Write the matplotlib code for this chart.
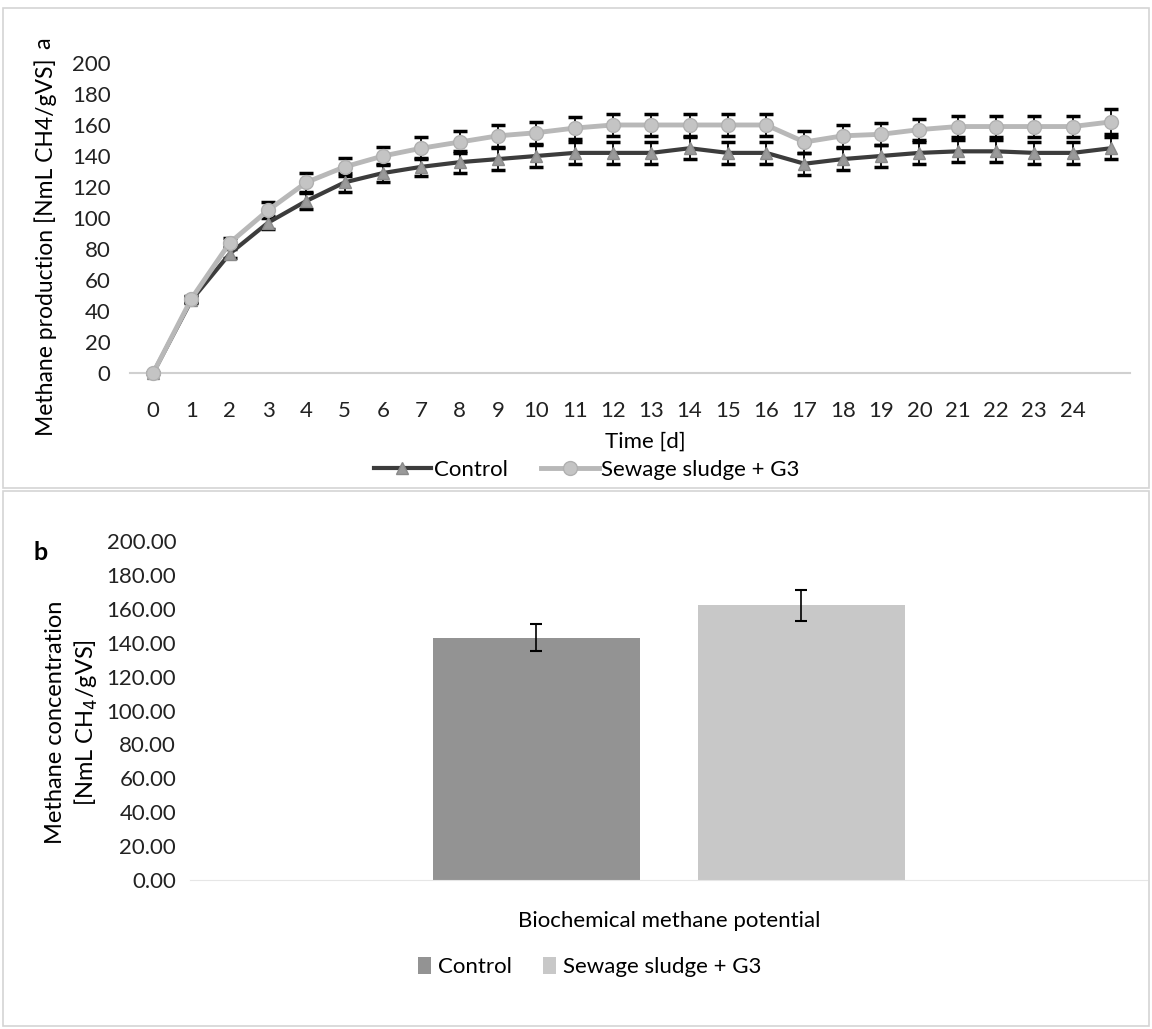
import matplotlib
matplotlib.use("Agg")
import matplotlib.pyplot as plt
import numpy as np
from matplotlib.patches import Rectangle

plt.rcParams["font.family"] = ["Lato", "DejaVu Sans"]

# panel a: cumulative methane production
days = list(range(26))
day_labels = [str(d) for d in range(25)]
control = [0, 47, 77, 97, 111, 123, 129, 133, 136, 138, 140, 142, 142, 142, 145,
           142, 142, 135, 138, 140, 142, 143, 143, 142, 142, 145]
control_err = [0, 2, 3, 4, 5, 6, 6, 6, 7, 7, 7, 7, 7, 7, 7,
               7, 7, 7, 7, 7, 7, 7, 7, 7, 7, 7]
sludge = [0, 48, 84, 105, 123, 133, 140, 145, 149, 153, 155, 158, 160, 160, 160,
          160, 160, 149, 153, 154, 157, 159, 159, 159, 159, 162]
sludge_err = [0, 2, 3, 5, 6, 6, 6, 7, 7, 7, 7, 7, 7, 7, 7,
              7, 7, 7, 7, 7, 7, 7, 7, 7, 7, 8]

# panel b: biochemical methane potential
bmp_names = ["Control", "Sewage sludge + G3"]
bmp_values = [143.0, 162.0]
bmp_err = [8.0, 9.0]

fig = plt.figure(figsize=(11.52, 10.29), dpi=100)

# panel frames
fig.patches.append(Rectangle((0.003, 0.526), 0.994, 0.466, transform=fig.transFigure,
                             fill=False, edgecolor="#d4d4d4", linewidth=1.2))
fig.patches.append(Rectangle((0.003, 0.003), 0.994, 0.52, transform=fig.transFigure,
                             fill=False, edgecolor="#d4d4d4", linewidth=1.2))

# ---- panel a ----
ax1 = fig.add_axes([0.113, 0.6375, 0.868, 0.3013])
ax1.errorbar(days, control, yerr=control_err, fmt="none", ecolor="black",
             elinewidth=1.3, capsize=5, capthick=2.5, clip_on=False, zorder=2)
ax1.errorbar(days, sludge, yerr=sludge_err, fmt="none", ecolor="black",
             elinewidth=1.3, capsize=5, capthick=2.5, clip_on=False, zorder=2)
ax1.plot(days, control, color="#3c3c3c", linewidth=3, marker="^", markersize=9,
         markerfacecolor="#9a9a9a", markeredgecolor="#8a8a8a",
         label="Control", clip_on=False, zorder=3)
ax1.plot(days, sludge, color="#b8b8b8", linewidth=3.5, marker="o", markersize=10,
         markerfacecolor="#c4c4c4", markeredgecolor="#b0b0b0",
         label="Sewage sludge + G3", clip_on=False, zorder=4)
ax1.set_xlim(-0.6, 25.5)
ax1.set_ylim(0, 200)
ax1.set_yticks(range(0, 201, 20))
ax1.set_xticks(range(25))
ax1.set_xticklabels(day_labels)
for side in ["top", "right", "left"]:
    ax1.spines[side].set_visible(False)
ax1.spines["bottom"].set_color("#d0d0d0")
ax1.spines["bottom"].set_linewidth(1.5)
ax1.tick_params(axis="both", length=0, labelsize=16, colors="#222222")
ax1.tick_params(axis="x", pad=20)
ax1.tick_params(axis="y", pad=14)
ax1.set_xlabel("Time [d]", fontsize=16)
ax1.xaxis.set_label_coords(0.515, -0.19)
ax1.set_ylabel("Methane production [NmL CH4/gVS]", fontsize=16.5)
ax1.yaxis.set_label_coords(-0.073, 0.406)
fig.text(0.038, 1 - 43 / 1029, "a", rotation=90, fontsize=17, ha="center", va="center")
h, l = ax1.get_legend_handles_labels()
fig.legend(h, l, loc="center", bbox_to_anchor=(0.509, 1 - 470 / 1029), ncol=2,
           frameon=False, fontsize=16, handlelength=2.6, columnspacing=1.5,
           handletextpad=0.1)

# ---- panel b ----
ax2 = fig.add_axes([0.165, 0.1448, 0.831, 0.3294])
offsets = np.array([-0.512, 0.512])
bar_colors = ["#939393", "#c8c8c8"]
for pos, val, err, name, col in zip(offsets, bmp_values, bmp_err, bmp_names, bar_colors):
    ax2.bar(pos, val, width=0.8, color=col, label=name)
    ax2.errorbar(pos, val, yerr=err, color="black", elinewidth=1.2, capsize=4,
                 capthick=1.5, fmt="none")
ax2.set_xlim(-1.85, 1.85)
ax2.set_ylim(0, 200)
ax2.set_yticks(range(0, 201, 20))
ax2.set_yticklabels([f"{v:.2f}" for v in range(0, 201, 20)])
ax2.set_xticks([])
for side in ["top", "right", "left"]:
    ax2.spines[side].set_visible(False)
ax2.spines["bottom"].set_color("#e6e6e6")
ax2.tick_params(axis="y", length=0, labelsize=16, colors="#222222", pad=10)
ax2.set_xlabel("Biochemical methane potential", fontsize=16, labelpad=22)
ax2.set_ylabel("Methane concentration\n[NmL CH$_4$/gVS]", fontsize=17,
               linespacing=1.35)
ax2.yaxis.set_label_coords(-0.094, 0.466)
fig.text(0.035, 1 - 553 / 1029, "b", fontsize=18, fontweight="bold",
         ha="center", va="center")
h2, l2 = ax2.get_legend_handles_labels()
fig.legend(h2, l2, loc="center", bbox_to_anchor=(0.512, 1 - 967 / 1029), ncol=2,
           frameon=False, fontsize=16, handlelength=0.6, handleheight=0.8,
           columnspacing=1.4, handletextpad=0.3)

fig.savefig("out.png", dpi=100)
